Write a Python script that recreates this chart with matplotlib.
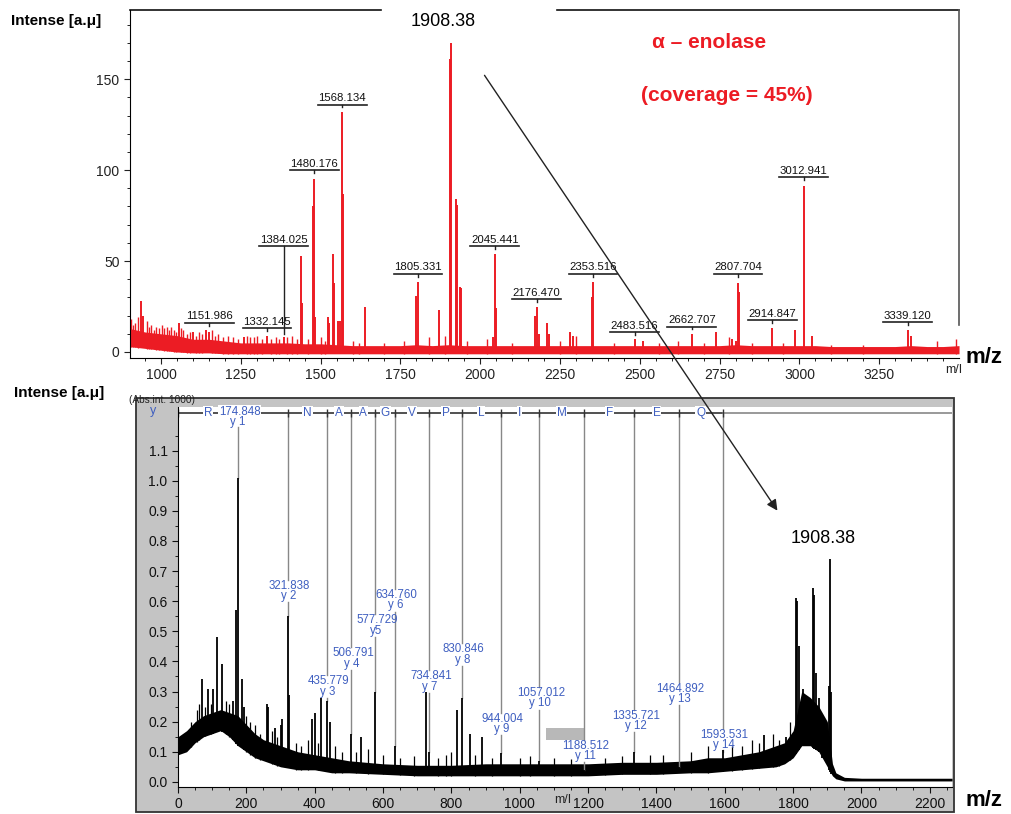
import matplotlib.pyplot as plt
import numpy as np
from matplotlib.patches import Rectangle, FancyArrowPatch

plt.rcParams['font.family'] = ['Liberation Sans', 'DejaVu Sans']

RED = '#ec1c24'
BLUE = '#3f5fc0'

# ---------------- top: peptide mass fingerprint ----------------
pmf_base_mz = [900, 950, 1000, 1050, 1100, 1150, 1200, 1250, 1300, 1350, 1400, 1450,
               1500, 1550, 1600, 1650, 1700, 1750, 1800, 1850, 1900, 1950, 2000, 2050,
               2100, 2150, 2200, 2250, 2300, 2350, 2400, 2450, 2500, 2550, 2600, 2650,
               2700, 2750, 2800, 2850, 2900, 2950, 3000, 3050, 3100, 3150, 3200, 3250,
               3300, 3350, 3400, 3450, 3500]
pmf_base_hi = [13, 11, 10, 9, 7, 7, 6, 5, 5, 5, 5, 4.5,
               4.5, 4, 3.5, 3.5, 3.5, 3.5, 4, 3.5, 4, 3.5, 3.5, 3.5,
               3.5, 3.5, 3.5, 3.5, 3.5, 3.5, 3.5, 3.5, 3.5, 3.5, 3.5, 3.5,
               3.5, 3.5, 4, 3.5, 3.5, 3.5, 3.5, 3.5, 3, 3, 3, 3,
               3, 3.5, 3, 3, 3.5]
pmf_base_lo = [3, 2, 1, 0, -0.5, -0.5, -1, -1, -1, -1, -1, -1,
               -1, -1, -1, -1, -1, -1, -1, -1, -1, -1, -1, -1,
               -1, -1, -1, -1, -1, -1, -1, -1, -1, -1, -1, -1,
               -1, -1, -1, -1, -1, -1, -1, -1, -1, -1, -1, -1,
               -1, -1, -1, -1, -1]

pmf_peak_mz = [937, 945, 1055, 1100, 1140, 1151.986, 1260, 1332.145, 1384.025,
               1440, 1443, 1476, 1480.176, 1484, 1522, 1527, 1540, 1543, 1555, 1560,
               1568.134, 1571, 1640, 1800, 1805.331, 1870, 1905, 1908.38, 1923, 1927,
               1938, 1941, 2040, 2045.441, 2048, 2173, 2176.47, 2185, 2210, 2215,
               2280, 2290, 2350, 2353.516, 2483.516, 2510, 2662.707, 2740, 2790, 2800,
               2807.704, 2810, 2914.847, 2985, 3012.941, 3040, 3339.12, 3350]
pmf_peak_int = [28, 20, 16, 11, 12, 11, 8, 9, 8,
                53, 27, 80, 95, 19, 19, 16, 54, 38, 17, 17,
                132, 87, 25, 31, 38.5, 23, 161, 170, 84, 81,
                36, 35, 8, 54, 24, 20, 25, 10, 16, 10,
                11, 9, 30, 38.5, 7, 6, 10, 11, 7, 6,
                38, 33, 13, 12, 91, 9, 12, 9]

pmf_minor_mz = [905, 912, 920, 928, 955, 962, 970, 978, 985, 993, 1002, 1010, 1018, 1025,
                1030, 1040, 1047, 1062, 1070, 1080, 1090, 1110, 1120, 1130, 1160, 1170,
                1180, 1195, 1210, 1225, 1240, 1270, 1280, 1290, 1300, 1315, 1345, 1360,
                1370, 1395, 1410, 1425, 1460, 1500, 1515, 1600, 1620, 1700, 1760, 1840,
                1890, 1960, 2020, 2100, 2250, 2300, 2420, 2560, 2620, 2700, 2780, 2850,
                2950, 3100, 3200, 3430, 3490]
pmf_minor_int = [18, 15, 16, 19, 17, 14, 15, 12, 14, 13, 15, 13, 14, 12,
                 14, 12, 11, 13, 12, 10, 11, 9, 11, 10, 12, 9,
                 10, 8, 9, 8, 7, 9, 8, 8, 9, 7, 7, 8,
                 7, 8, 9, 7, 7, 8, 6, 6, 5, 5, 6, 8,
                 9, 6, 7, 5, 6, 9, 5, 5, 6, 5, 8, 5,
                 5, 4, 4, 6, 7]

pmf_labels = ['1151.986', '1332.145', '1384.025', '1480.176', '1568.134', '1805.331',
              '2045.441', '2176.470', '2353.516', '2483.516', '2662.707', '2807.704',
              '2914.847', '3012.941', '3339.120']
pmf_label_y = [16, 13, 58, 100, 136, 43, 58, 29, 43, 11, 14, 43, 17.5, 96, 16.5]
pmf_label_tip = [14.5, 11.5, 10, 98.5, 134.5, 41.5, 56.5, 27.5, 41.5, 9.5, 12.5, 41.5, 16, 94.5, 15]

# ---------------- bottom: MS/MS of 1908.38 ----------------
ms2_base_mz = [0, 25, 50, 75, 100, 125, 150, 175, 200, 225, 250, 275, 300, 350, 400,
               450, 500, 600, 700, 800, 900, 1000, 1100, 1200, 1300, 1400, 1500, 1550,
               1600, 1650, 1700, 1750, 1775, 1800, 1825, 1850, 1875, 1900, 1915, 1925,
               1950, 2000, 2100, 2200, 2265]
ms2_base_lo = [0.09, 0.10, 0.13, 0.15, 0.16, 0.17, 0.15, 0.12, 0.10, 0.08, 0.07, 0.06,
               0.05, 0.04, 0.04, 0.03, 0.03, 0.025, 0.02, 0.02, 0.02, 0.02, 0.02, 0.02,
               0.025, 0.025, 0.03, 0.03, 0.035, 0.04, 0.045, 0.05, 0.06, 0.08, 0.12,
               0.12, 0.10, 0.05, 0.02, 0.01, 0.003, 0.003, 0.003, 0.003, 0.003]
ms2_base_hi = [0.15, 0.17, 0.20, 0.22, 0.23, 0.24, 0.23, 0.22, 0.19, 0.16, 0.14, 0.13,
               0.12, 0.10, 0.09, 0.08, 0.07, 0.06, 0.055, 0.055, 0.06, 0.06, 0.06, 0.06,
               0.065, 0.065, 0.07, 0.08, 0.08, 0.09, 0.10, 0.12, 0.13, 0.17, 0.30,
               0.28, 0.25, 0.20, 0.06, 0.03, 0.015, 0.012, 0.012, 0.012, 0.012]

ms2_peak_mz = [69, 87, 101, 113, 130, 160, 171, 174.848, 186, 192, 259, 263, 285, 300,
               305, 321.838, 324, 392, 400, 419, 435.779, 444, 506.791, 535, 577.729,
               634.76, 725, 734.841, 815, 830.846, 853, 889, 944.004, 1057.012, 1188.512,
               1335.721, 1464.892, 1593.531, 1716, 1780, 1808, 1812, 1816, 1830, 1840,
               1858, 1862, 1866, 1875, 1885, 1906, 1908.38, 1912]
ms2_peak_int = [0.34, 0.31, 0.31, 0.48, 0.39, 0.27, 0.57, 1.01, 0.34, 0.25, 0.26, 0.25,
                0.18, 0.19, 0.21, 0.55, 0.29, 0.21, 0.23, 0.28, 0.27, 0.2, 0.16, 0.15,
                0.3, 0.12, 0.3, 0.1, 0.24, 0.28, 0.16, 0.15, 0.095, 0.07, 0.04,
                0.1, 0.05, 0.105, 0.155, 0.15, 0.61, 0.6, 0.45, 0.31, 0.28,
                0.645, 0.62, 0.36, 0.28, 0.22, 0.32, 0.74, 0.3]

ms2_minor_mz = [38, 55, 62, 78, 95, 140, 150, 200, 212, 225, 240, 275, 290, 345, 360, 380,
                410, 460, 480, 520, 555, 600, 650, 690, 760, 785, 800, 870, 920, 1000,
                1030, 1100, 1150, 1250, 1300, 1380, 1420, 1500, 1550, 1620, 1650, 1680,
                1700, 1740, 1760, 1790]
ms2_minor_int = [0.2, 0.24, 0.26, 0.25, 0.26, 0.27, 0.26, 0.22, 0.2, 0.19, 0.16, 0.17, 0.15,
                 0.13, 0.12, 0.14, 0.13, 0.12, 0.1, 0.1, 0.11, 0.09, 0.08, 0.085, 0.08,
                 0.09, 0.1, 0.09, 0.08, 0.08, 0.085, 0.08, 0.075, 0.08, 0.085, 0.09, 0.09,
                 0.1, 0.12, 0.12, 0.12, 0.14, 0.13, 0.16, 0.14, 0.2]

# y-ion ladder
ion_mz = [174.848, 321.838, 435.779, 506.791, 577.729, 634.760, 734.841, 830.846,
          944.004, 1057.012, 1188.512, 1335.721, 1464.892, 1593.531]
ion_name = ['y 1', 'y 2', 'y 3', 'y 4', 'y5', 'y 6', 'y 7', 'y 8', 'y 9', 'y 10',
            'y 11', 'y 12', 'y 13', 'y 14']
ion_int = [1.01, 0.55, 0.27, 0.16, 0.30, 0.12, 0.10, 0.28, 0.095, 0.07, 0.04, 0.10, 0.05, 0.105]
ion_label_y = [1.228, 0.652, 0.334, 0.427, 0.536, 0.62, 0.35, 0.44, 0.21, 0.295, 0.12,
               0.22, 0.31, 0.155]
residues = ['R', '', 'N', 'A', 'A', 'G', 'V', 'P', 'L', 'I', 'M', 'F', 'E', 'Q']

fig = plt.figure(figsize=(10.11, 8.14), dpi=100)

# ---------- top panel ----------
ax1 = fig.add_axes([0.1286, 0.5602, 0.82, 0.4275])
ax1.set_xlim(903, 3500)
ax1.set_ylim(-3.3, 188)
ax1.fill_between(pmf_base_mz, pmf_base_lo, pmf_base_hi, color=RED, lw=0)
ax1.vlines(pmf_minor_mz, np.interp(pmf_minor_mz, pmf_base_mz, pmf_base_lo),
           pmf_minor_int, color=RED, lw=1.0)
ax1.vlines(pmf_peak_mz, np.interp(pmf_peak_mz, pmf_base_mz, pmf_base_lo),
           pmf_peak_int, color=RED, lw=1.4)

for lab, ly, tip in zip(pmf_labels, pmf_label_y, pmf_label_tip):
    m = float(lab)
    ax1.plot([m - 76, m + 76], [ly, ly], color='#222', lw=1.2)
    ax1.plot([m, m], [ly, tip], color='#222', lw=1.0)
    ax1.text(m, ly + 0.8, lab, ha='center', va='bottom', fontsize=8.2, color='#111')

for s in ['top', 'right']:
    ax1.spines[s].set_visible(False)
ax1.plot([0, 0.3028], [1, 1], transform=ax1.transAxes, color='#111', lw=1.2, clip_on=False)
ax1.plot([0.515, 1.0], [1, 1], transform=ax1.transAxes, color='#111', lw=1.2, clip_on=False)
ax1.plot([1, 1], [0.095, 1], transform=ax1.transAxes, color='#555', lw=1.2, clip_on=False)
ax1.set_xticks([1000, 1250, 1500, 1750, 2000, 2250, 2500, 2750, 3000, 3250])
ax1.set_xticks(np.arange(950, 3500, 50), minor=True)
ax1.set_yticks([0, 50, 100, 150])
ax1.set_yticks(np.arange(0, 190, 10), minor=True)
ax1.tick_params(labelsize=10, colors='#222', length=4)
ax1.tick_params(which='minor', length=2.5)

# ---------- bottom panel ----------
frame = Rectangle((0.1345, 0.0025), 0.8091, 0.5085, transform=fig.transFigure,
                  facecolor='#c4c4c4', edgecolor='#333', lw=1.3, zorder=-5)
fig.patches.append(frame)

ax2 = fig.add_axes([0.1761, 0.0332, 0.7656, 0.4668])
ax2.set_xlim(0, 2265)
ax2.set_ylim(-0.017, 1.245)
ax2.fill_between(ms2_base_mz, ms2_base_lo, ms2_base_hi, color='black', lw=0)
ax2.vlines(ms2_minor_mz, np.interp(ms2_minor_mz, ms2_base_mz, ms2_base_lo),
           ms2_minor_int, color='black', lw=0.9)
ax2.vlines(ms2_peak_mz, np.interp(ms2_peak_mz, ms2_base_mz, ms2_base_lo),
           ms2_peak_int, color='black', lw=1.3)

y_head = 1.225
ax2.plot([0, ion_mz[-1]], [y_head, y_head], color='#333', lw=1.2, zorder=2)
ax2.plot([ion_mz[-1], 2265], [y_head, y_head], color='#888', lw=1.2, zorder=2)
ax2.vlines([0] + ion_mz, y_head - 0.012, y_head + 0.012, color='#333', lw=1.0, zorder=2)

prev = 0
for res, m in zip(residues, ion_mz):
    if res:
        ax2.text((prev + m) / 2, y_head, res, ha='center', va='center', fontsize=8.5,
                 color=BLUE, zorder=3,
                 bbox=dict(facecolor='white', edgecolor='none', pad=0.6))
    prev = m

# gray highlight box near y 11
ax2.add_patch(Rectangle((1078, 0.139), 1188.512 - 1078, 0.04, facecolor='#b8b8b8',
                        edgecolor='none', zorder=1))

for i, (m, nm, pk, ly) in enumerate(zip(ion_mz, ion_name, ion_int, ion_label_y)):
    if i == 0:
        ax2.text(m + 5, ly, '174.848', ha='center', va='center', fontsize=8.3, color=BLUE,
                 zorder=3, bbox=dict(facecolor='white', edgecolor='none', pad=0.8))
        ax2.text(m, ly - 0.033, nm, ha='center', va='center', fontsize=8.3, color=BLUE, zorder=3)
        ax2.plot([m, m], [ly - 0.05, pk], color='#888', lw=1.0, zorder=1)
        continue
    ax2.plot([m, m], [y_head, ly + 0.02], color='#888', lw=1.0, zorder=1)
    ax2.plot([m, m], [ly - 0.055, pk], color='#888', lw=1.0, zorder=1)
    ax2.text(m + 5, ly, '%.3f' % m, ha='center', va='center', fontsize=8.3, color=BLUE, zorder=3)
    ax2.text(m + 3, ly - 0.034, nm, ha='center', va='center', fontsize=8.3, color=BLUE, zorder=3)

for s in ['top', 'right']:
    ax2.spines[s].set_visible(False)
ax2.set_xticks(np.arange(0, 2201, 200))
ax2.set_xticks(np.arange(0, 2265, 50), minor=True)
ax2.set_yticks(np.round(np.arange(0, 1.15, 0.1), 1))
ax2.set_yticks(np.arange(0, 1.2, 0.05), minor=True)
ax2.yaxis.set_major_formatter(plt.FormatStrFormatter('%.1f'))
ax2.tick_params(labelsize=10, colors='#111', length=4)
ax2.tick_params(which='minor', length=2.5)

# ---------- texts & arrow ----------
fig.text(0.011, 0.974, 'Intense [a.\u03bc]', fontsize=11, fontweight='bold', va='center')
fig.text(0.014, 0.517, 'Intense [a.\u03bc]', fontsize=11, fontweight='bold', va='center')
fig.text(0.128, 0.508, '(Abs.int. 1000)', fontsize=7.3, va='center', color='#222')
fig.text(0.151, 0.495, 'y', fontsize=9, va='center', ha='center', color=BLUE)
fig.text(0.438, 0.973, '1908.38', fontsize=13, ha='center', va='center')
fig.text(0.814, 0.338, '1908.38', fontsize=13, ha='center', va='center')
fig.text(0.701, 0.948, '\u03b1 \u2013 enolase', fontsize=15, fontweight='bold', color=RED,
         ha='center', va='center')
fig.text(0.719, 0.883, '(coverage = 45%)', fontsize=15, fontweight='bold', color=RED,
         ha='center', va='center')
fig.text(0.955, 0.561, 'm/z', fontsize=16, fontweight='bold', va='center')
fig.text(0.955, 0.016, 'm/z', fontsize=16, fontweight='bold', va='center')
fig.text(0.943, 0.545, 'm/I', fontsize=9, ha='center', va='center', color='#222')
fig.text(0.557, 0.017, 'm/I', fontsize=9, ha='center', va='center', color='#222')

arrow = FancyArrowPatch((0.4777, 0.9103), (0.7705, 0.3698), transform=fig.transFigure,
                        arrowstyle='-|>', mutation_scale=16, lw=1.0, color='#222', zorder=10)
fig.patches.append(arrow)

fig.savefig('out.png', dpi=100)
